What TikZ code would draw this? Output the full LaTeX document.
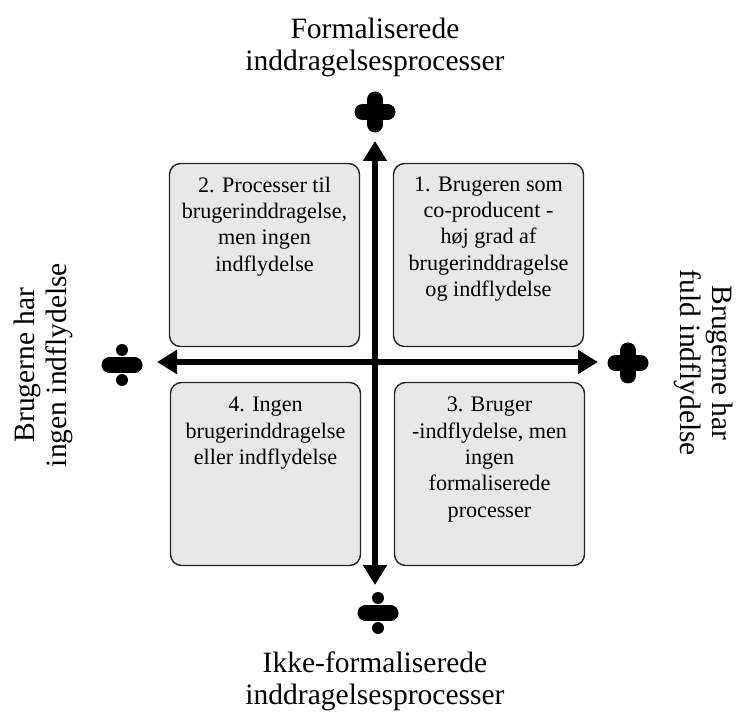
\documentclass[tikz,border=0pt]{standalone}
\usepackage{fontspec}
\setmainfont{Liberation Serif}
\usetikzlibrary{positioning, arrows.meta}

\begin{document}
\begin{tikzpicture}[>={Triangle[length=0.4cm,width=0.46cm]},
		quad/.style={draw=black!85, line width=0.8pt, fill=black!9, rounded corners=0.22cm, minimum width=3.8cm, minimum height=3.66cm},
		quadtext/.style={align=center, inner sep=0pt, font=\fontsize{12.6}{15}\selectfont},
		title/.style={align=center, font=\fontsize{16.8}{18.2}\selectfont},
		axis/.style={line width=3pt, <->},
		sign/.style={line width=0.32cm, line cap=round}]
		\useasboundingbox (0,0) rectangle (14.72,14.34);
		
		% Quadrant boxes
		\node[quad] (q2) at (5.29,9.24) {};
		\node[quad] (q1) at (9.77,9.24) {};
		\node[quad] (q4) at (5.31,4.86) {};
		\node[quad] (q3) at (9.79,4.86) {};
		
		% Box texts
		\node[quadtext, below=0.27cm of q2.north] (t2) {2. Processer til\\brugerinddragelse,\\men ingen\\indflydelse};
		\node[quadtext, below=0.27cm of q1.north] (t1) {1. Brugeren som\\co-producent -\\høj grad af\\brugerinddragelse\\og indflydelse};
		\node[quadtext, below=0.3cm of q4.north] (t4) {4. Ingen\\brugerinddragelse\\eller indflydelse};
		\node[quadtext, below=0.3cm of q3.north] (t3) {3. Bruger\\-indflydelse, men\\ingen\\formaliserede\\processer};
		
		% Axes
		\coordinate (up) at (7.5,11.52);
		\coordinate (down) at (7.5,2.64);
		\coordinate (left) at (3.14,7.1);
		\coordinate (right) at (11.96,7.1);
		\draw[axis] (down) -- (up);
		\draw[axis] (left) -- (right);
		
		% Plus signs
		\draw[sign] (7.5,11.85) -- (7.5,12.35) (7.25,12.1) -- (7.75,12.1);
		\draw[sign] (12.56,6.83) -- (12.56,7.33) (12.31,7.08) -- (12.81,7.08);
		
		% Division signs
		\draw[sign] (2.19,7.04) -- (2.69,7.04);
		\fill (2.44,7.34) circle (0.12) (2.44,6.74) circle (0.12);
		\draw[sign] (7.31,2.08) -- (7.81,2.08);
		\fill (7.56,2.38) circle (0.12) (7.56,1.78) circle (0.12);
		
		% Axis labels
		\node[title] (toplabel) at (7.5,13.4) {Formaliserede\\inddragelsesprocesser};
		\node[title] (bottomlabel) at (7.5,0.72) {Ikke-formaliserede\\inddragelsesprocesser};
		\node[title, rotate=90] (leftlabel) at (0.86,7.04) {Brugerne har\\ingen indflydelse};
		\node[title, rotate=-90] (rightlabel) at (14.08,7.08) {Brugerne har\\fuld indflydelse};
	\end{tikzpicture}
\end{document}
